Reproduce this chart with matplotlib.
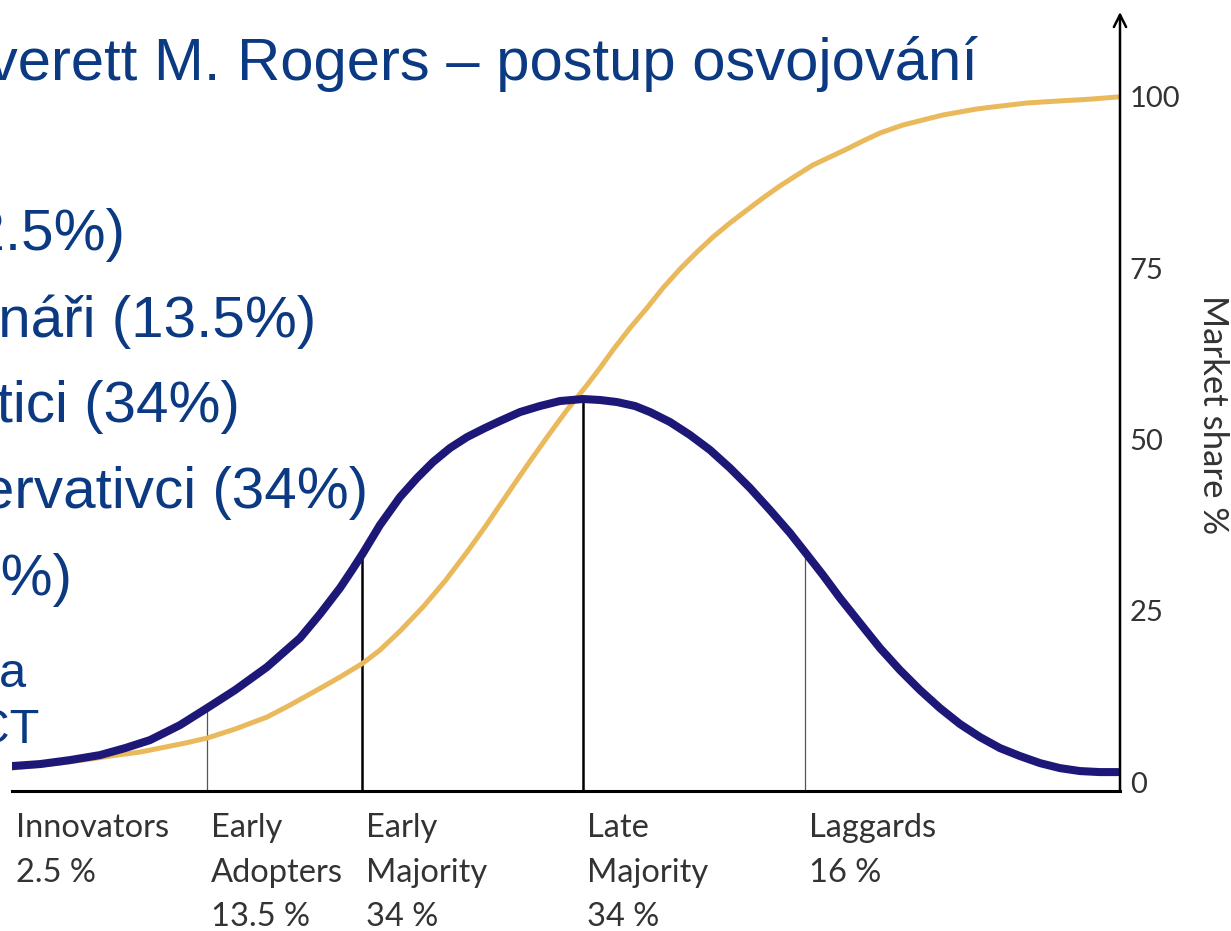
import numpy as np
import matplotlib.pyplot as plt

# horizontal position runs 0..100 along the axis, vertical is market share %
bell_x = [0.0, 2.53, 5.23, 7.94, 10.20, 12.45, 15.16, 17.60, 20.13, 23.01, 25.99, 27.80, 29.60,
          30.69, 31.68, 33.21, 35.02, 36.55, 38.00, 39.53, 41.07, 42.69, 44.04, 45.85, 47.65,
          49.46, 51.53, 53.07, 54.60, 56.23, 57.58, 59.39, 61.19, 63.00, 64.80, 66.61, 68.41,
          70.22, 71.57, 73.19, 74.73, 76.53, 78.34, 80.14, 81.95, 83.75, 85.56, 87.36, 89.17,
          90.97, 92.78, 94.58, 96.39, 98.19, 99.82]
bell_y = [2.34, 2.63, 3.21, 3.94, 4.96, 6.13, 8.32, 10.80, 13.43, 16.79, 21.02, 24.53, 28.32,
          30.95, 33.43, 37.52, 41.61, 44.38, 46.72, 48.76, 50.36, 51.68, 52.70, 54.01, 54.89,
          55.62, 55.91, 55.77, 55.47, 54.89, 54.01, 52.55, 50.66, 48.47, 45.84, 42.92, 39.71,
          36.35, 33.58, 30.22, 26.86, 23.21, 19.56, 16.35, 13.43, 10.80, 8.47, 6.57, 4.96,
          3.80, 2.77, 2.04, 1.61, 1.46, 1.46]

share_x = [0.0, 4.33, 7.04, 9.48, 11.55, 13.36, 15.61, 17.60, 20.13, 23.01, 25.09, 27.53, 29.60,
           31.68, 33.21, 35.02, 37.09, 39.08, 41.07, 42.69, 44.04, 45.58, 47.02, 48.56, 50.09,
           51.90, 53.07, 54.24, 55.78, 57.31, 58.75, 60.29, 61.82, 63.27, 64.80, 66.34, 67.78,
           69.31, 70.85, 72.29, 73.83, 75.36, 76.81, 78.34, 80.42, 82.58, 84.03, 85.56, 87.09,
           88.54, 90.07, 91.61, 93.05, 94.58, 96.12, 97.56, 98.65, 99.82]
share_y = [2.04, 2.77, 3.36, 3.94, 4.38, 4.96, 5.69, 6.42, 7.74, 9.49, 11.24, 13.43, 15.33,
           17.37, 19.27, 22.04, 25.55, 29.34, 33.58, 37.23, 40.44, 44.09, 47.45, 50.95, 54.31,
           57.96, 60.44, 63.07, 66.28, 69.20, 72.12, 74.89, 77.37, 79.56, 81.61, 83.50, 85.26,
           87.01, 88.61, 90.07, 91.24, 92.41, 93.58, 94.74, 95.91, 96.79, 97.37, 97.81, 98.25,
           98.54, 98.83, 99.12, 99.27, 99.42, 99.56, 99.71, 99.85, 100.0]

dividers = [17.6, 31.6, 51.5, 71.6]
divider_bold = [False, True, True, False]

group_starts = [0.0, 17.6, 31.6, 51.5, 71.6]
group_labels = ['Innovators\n2.5 %', 'Early\nAdopters\n13.5 %', 'Early\nMajority\n34 %',
                'Late\nMajority\n34 %', 'Laggards\n16 %']
yticks = [0, 25, 50, 75, 100]

title = 'Everett M. Rogers – postup osvojování'
bullets = ['Inovátoři (2.5%)', 'Vizionáři (13.5%)', 'Pragmatici (34%)',
           'Konzervativci (34%)', 'Opozdilci (16%)']
bullet_right = [125, 316, 240, 368, 72]
bullet_base = [250, 337, 422, 508, 595]
notes = ['a', 'ICT']
note_right = [26, 40]
note_base = [687, 743]

W, H = 1231, 931
blue = '#0b3a82'
gray_txt = '#333333'

fig = plt.figure(figsize=(W / 100, H / 100), dpi=100)
ax = fig.add_axes([12 / W, (H - 791) / H, (1120 - 12) / W, (791 - 12) / H])
ax.set_xlim(0, 100)
ax.set_ylim(-1.3, 112.4)

ax.plot(share_x, share_y, color='#e9b95c', lw=3.6, solid_capstyle='round',
        solid_joinstyle='round', zorder=2)
ax.plot(bell_x, bell_y, color='#1d1878', lw=5.8, solid_capstyle='round',
        solid_joinstyle='round', zorder=3)

tops = np.interp(dividers, bell_x, bell_y)
for x, top, bold in zip(dividers, tops, divider_bold):
    if bold:
        ax.plot([x, x], [-1.3, top], color='black', lw=1.8, zorder=1)
    else:
        ax.plot([x, x], [-1.3, top], color='#555555', lw=0.9, zorder=1)

for s in ['left', 'top', 'right']:
    ax.spines[s].set_visible(False)
ax.spines['bottom'].set_linewidth(2.2)
ax.annotate('', xy=(1, 1), xytext=(1, 0), xycoords='axes fraction',
            arrowprops=dict(arrowstyle='->', lw=1.8, color='black', mutation_scale=22,
                            shrinkA=0, shrinkB=0))

ax.set_xticks([])
ax.yaxis.tick_right()
ax.set_yticks(yticks)
ax.set_yticklabels([str(v) for v in yticks])
ax.tick_params(axis='y', length=0, pad=7, labelsize=21, labelcolor=gray_txt)
for t in ax.get_yticklabels():
    t.set_fontfamily('Lato')

ax.yaxis.set_label_position('right')
ax.set_ylabel('Market share %', rotation=270, fontsize=25, family='Lato', color=gray_txt,
              va='center', ha='center')
ax.yaxis.set_label_coords(1.084, 0.483)

for x, lab in zip(group_starts, group_labels):
    ax.annotate(lab, xy=(x, 0), xycoords=('data', 'axes fraction'), xytext=(3, -16),
                textcoords='offset points', ha='left', va='top', fontsize=23.5,
                family='Lato', color=gray_txt, linespacing=1.6)

fig.text(978 / W, 1 - 80 / H, title, ha='right', va='baseline', fontsize=43,
         family='Liberation Sans', color=blue)
for txt, xr, yb in zip(bullets, bullet_right, bullet_base):
    fig.text(xr / W, 1 - yb / H, txt, ha='right', va='baseline', fontsize=42,
             family='Liberation Sans', color=blue)
for txt, xr, yb in zip(notes, note_right, note_base):
    fig.text(xr / W, 1 - yb / H, txt, ha='right', va='baseline', fontsize=35,
             family='Liberation Sans', color=blue)

fig.savefig('out.png', dpi=100)
